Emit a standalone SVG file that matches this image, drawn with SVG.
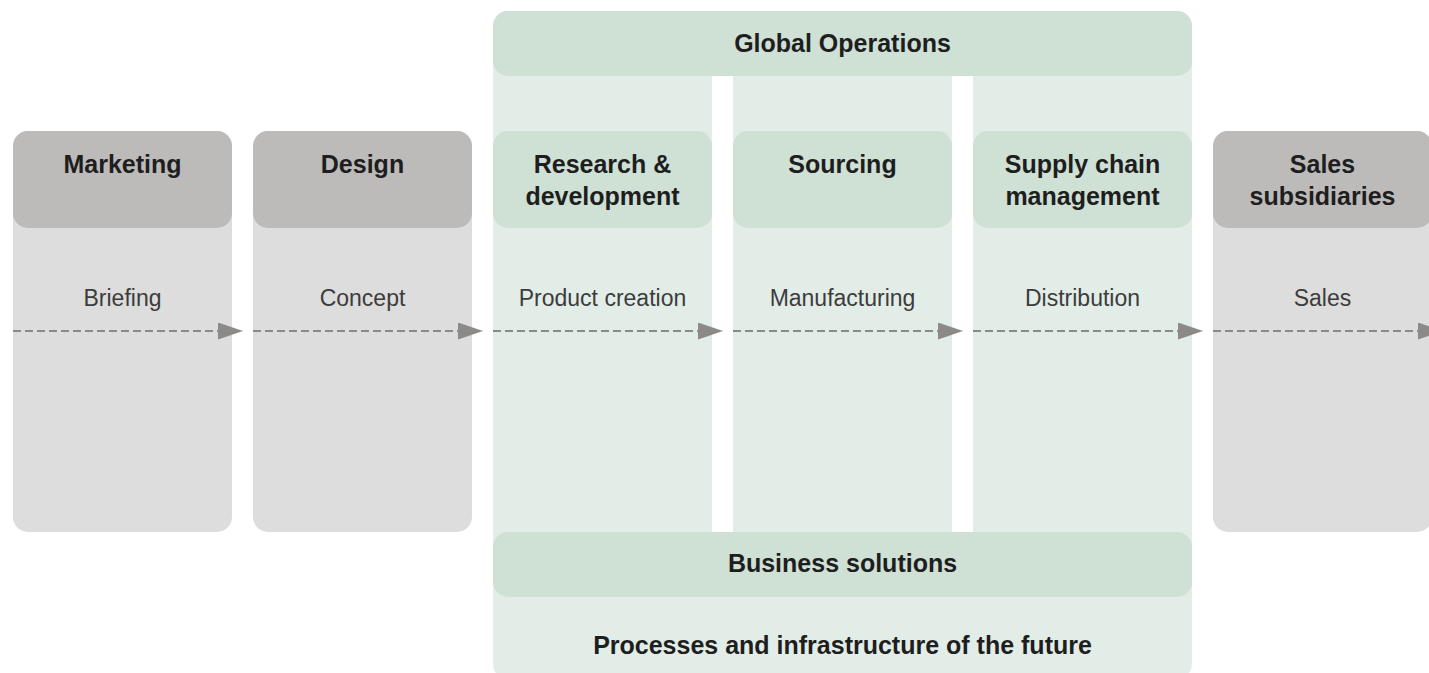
<svg xmlns="http://www.w3.org/2000/svg" width="1429" height="673" viewBox="0 0 1429 673">
  <style>
    .hdr-gray { fill: #bdbbba; }
    .body-gray { fill: #dddddd; }
    .hdr-green { fill: #cfe0d4; }
    .body-green { fill: #e3ede7; }
    .gap { fill: #ffffff; }
    .title { font-family: "Liberation Sans", Arial, sans-serif; font-weight: bold; font-size: 25px; fill: #1e1e1e; text-anchor: middle; }
    .label { font-family: "Liberation Sans", Arial, sans-serif; font-size: 23px; fill: #3c3c3c; text-anchor: middle; }
    .flow { stroke: #8c8a88; stroke-width: 2; stroke-dasharray: 8 4; fill: none; marker-end: url(#head); }
  </style>
  <defs>
    <marker id="head" markerUnits="userSpaceOnUse" markerWidth="25" markerHeight="17" viewBox="0 0 25 17" refX="0" refY="8.5" orient="auto">
      <path d="M0,0 L25,8.5 L0,17 Z" fill="#8c8a88"/>
    </marker>
  </defs>
  <rect x="0" y="0" width="1429" height="673" fill="#ffffff"/>

  <!-- Global Operations frame -->
  <g id="global-operations">
    <rect class="body-green" x="493" y="11" width="699" height="668" rx="15"/>
    <rect class="gap" x="712" y="76" width="21" height="456"/>
    <rect class="gap" x="952" y="76" width="21" height="456"/>
    <rect class="hdr-green" x="493" y="11" width="699" height="65" rx="15"/>
    <text class="title" x="842.5" y="52">Global Operations</text>
  </g>

  <g id="marketing">
    <rect class="body-gray" x="13" y="131" width="219" height="401" rx="15"/>
    <rect class="hdr-gray" x="13" y="131" width="219" height="97" rx="15"/>
    <text class="title" x="122.5" y="173">Marketing</text>
    <text class="label" x="122.5" y="306">Briefing</text>
  </g>

  <g id="design">
    <rect class="body-gray" x="253" y="131" width="219" height="401" rx="15"/>
    <rect class="hdr-gray" x="253" y="131" width="219" height="97" rx="15"/>
    <text class="title" x="362.5" y="173">Design</text>
    <text class="label" x="362.5" y="306">Concept</text>
  </g>

  <g id="research-development">
    <rect class="hdr-green" x="493" y="131" width="219" height="97" rx="15"/>
    <text class="title" x="602.5" y="173">Research &amp;</text>
    <text class="title" x="602.5" y="205">development</text>
    <text class="label" x="602.5" y="306">Product creation</text>
  </g>

  <g id="sourcing">
    <rect class="hdr-green" x="733" y="131" width="219" height="97" rx="15"/>
    <text class="title" x="842.5" y="173">Sourcing</text>
    <text class="label" x="842.5" y="306">Manufacturing</text>
  </g>

  <g id="supply-chain">
    <rect class="hdr-green" x="973" y="131" width="219" height="97" rx="15"/>
    <text class="title" x="1082.5" y="173">Supply chain</text>
    <text class="title" x="1082.5" y="205">management</text>
    <text class="label" x="1082.5" y="306">Distribution</text>
  </g>

  <g id="sales-subsidiaries">
    <rect class="body-gray" x="1213" y="131" width="219" height="401" rx="15"/>
    <rect class="hdr-gray" x="1213" y="131" width="219" height="97" rx="15"/>
    <text class="title" x="1322.5" y="173">Sales</text>
    <text class="title" x="1322.5" y="205">subsidiaries</text>
    <text class="label" x="1322.5" y="306">Sales</text>
  </g>

  <g id="business-solutions">
    <rect class="hdr-green" x="493" y="532" width="699" height="65" rx="15"/>
    <text class="title" x="842.5" y="572">Business solutions</text>
    <text class="title" x="842.5" y="654">Processes and infrastructure of the future</text>
  </g>

  <!-- value chain flow -->
  <g id="connectors">
    <line class="flow" x1="13" y1="331" x2="218" y2="331"/>
    <line class="flow" x1="253" y1="331" x2="458" y2="331"/>
    <line class="flow" x1="493" y1="331" x2="698" y2="331"/>
    <line class="flow" x1="733" y1="331" x2="938" y2="331"/>
    <line class="flow" x1="973" y1="331" x2="1178" y2="331"/>
    <line class="flow" x1="1213" y1="331" x2="1418" y2="331"/>
  </g>
</svg>
